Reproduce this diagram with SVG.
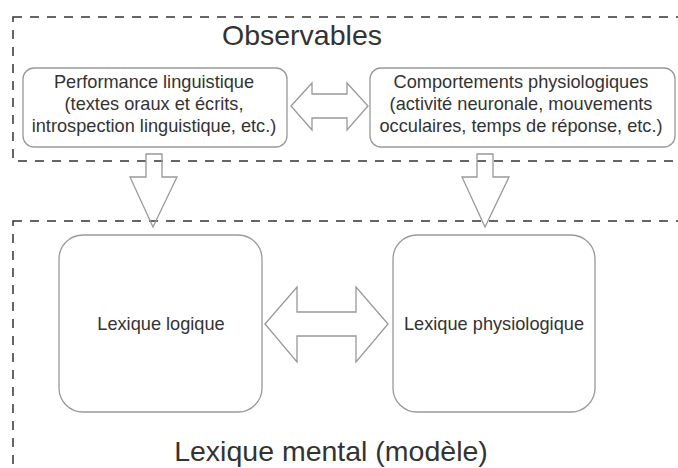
<svg xmlns="http://www.w3.org/2000/svg" width="678" height="468" viewBox="0 0 678 468">
<style>
.bg{fill:#ffffff}
.region{fill:none;stroke:#333;stroke-width:1.5;stroke-dasharray:9 8}
.box{fill:#ffffff;stroke:#999;stroke-width:1.3}
.arrow{fill:none;stroke:#999;stroke-width:1.3;stroke-linejoin:miter}
.t{font-family:"Liberation Sans",Arial,sans-serif;fill:#333;text-anchor:middle}
.title{font-size:28.5px}
.label{font-size:18.2px}
</style>
<rect class="bg" x="0" y="0" width="678" height="468"/>
<g id="observables">
<rect class="region" x="13" y="17" width="700" height="144"/>
<text class="t title" x="302" y="45">Observables</text>
</g>
<g id="lexique-mental">
<rect class="region" x="13" y="221" width="700" height="280"/>
<text class="t title" x="331" y="461">Lexique mental (modèle)</text>
</g>
<g id="performance">
<rect class="box" x="23" y="68" width="264" height="79" rx="11"/>
<text class="t label" x="154" y="88">Performance linguistique</text>
<text class="t label" x="154" y="110">(textes oraux et écrits,</text>
<text class="t label" x="154" y="132">introspection linguistique, etc.)</text>
</g>
<g id="comportements">
<rect class="box" x="370" y="68" width="305" height="79" rx="11"/>
<text class="t label" x="521" y="88">Comportements physiologiques</text>
<text class="t label" x="521" y="110">(activité neuronale, mouvements</text>
<text class="t label" x="521" y="132">occulaires, temps de réponse, etc.)</text>
</g>
<g id="lexique-logique">
<rect class="box" x="59" y="235" width="203" height="177" rx="24"/>
<text class="t label" x="161" y="330">Lexique logique</text>
</g>
<g id="lexique-physiologique">
<rect class="box" x="393" y="235" width="202" height="177" rx="24"/>
<text class="t label" x="494" y="330">Lexique physiologique</text>
</g>
<g id="connectors">
<path class="arrow" d="M291,106 L312,83 L312,94 L347,94 L347,83 L368,106 L347,130 L347,118 L312,118 L312,130 Z"/>
<path class="arrow" d="M265,324 L297,287 L297,312 L356,312 L356,287 L388,324 L356,362 L356,336 L297,336 L297,362 Z"/>
<path class="arrow" d="M146,154 L162,154 L162,177 L177,177 L153,227 L130,177 L146,177 Z"/>
<path class="arrow" d="M477,154 L493,154 L493,177 L509,177 L485,227 L462,177 L477,177 Z"/>
</g>
</svg>
